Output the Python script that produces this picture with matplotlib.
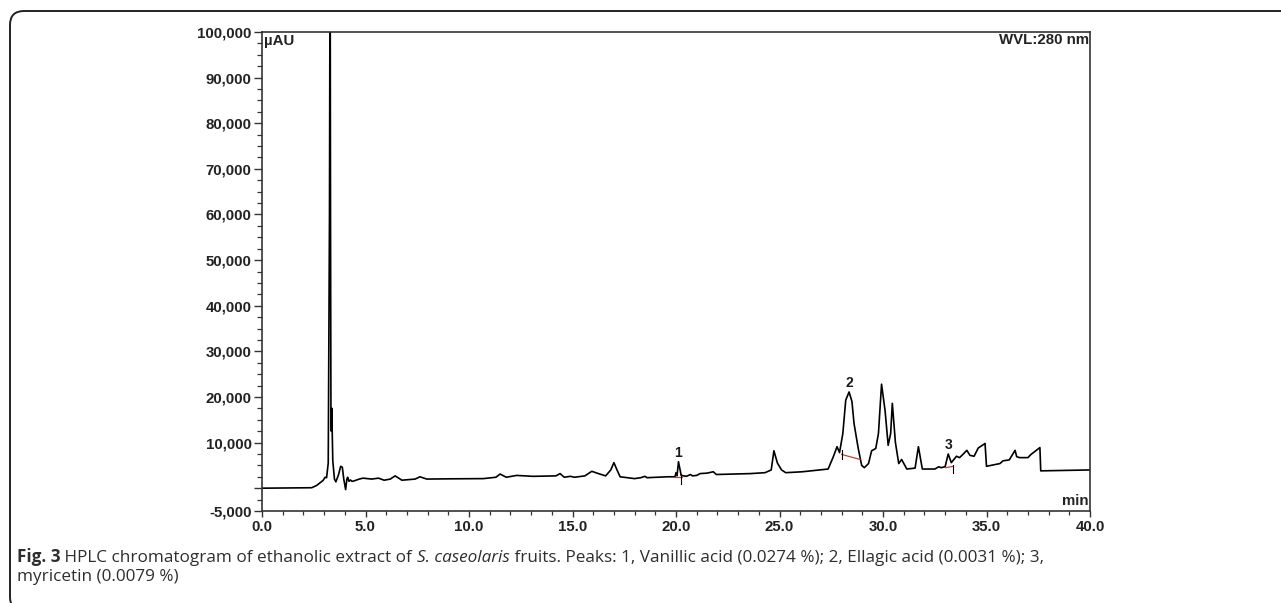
import matplotlib
matplotlib.use("Agg")
import matplotlib.pyplot as plt
from matplotlib.patches import FancyBboxPatch
from matplotlib.transforms import IdentityTransform
from matplotlib.ticker import FixedLocator, MultipleLocator, FuncFormatter

# retention time (min) and detector signal (uAU)
time_min = [0.0, 2.4, 2.64, 2.95, 3.05, 3.12, 3.2, 3.26, 3.29, 3.31, 3.33, 3.35,
            3.37, 3.42, 3.5, 3.57, 3.7, 3.8, 3.88, 3.95, 4.04, 4.1, 4.14, 4.2,
            4.27, 4.35, 4.45, 4.7, 4.88, 5.3, 5.63, 5.9, 6.2, 6.43, 6.76, 7.4,
            7.63, 7.96, 9.0, 10.7, 11.3, 11.5, 11.8, 12.3, 13.1, 14.2, 14.4, 14.6,
            14.9, 15.1, 15.6, 15.93, 16.25, 16.6, 16.85, 17.0, 17.15, 17.3, 18.0,
            18.3, 18.5, 18.6, 19.6, 19.95, 20.0, 20.05, 20.12, 20.25, 20.5, 20.7,
            20.8, 21.0, 21.16, 21.5, 21.8, 21.95, 22.8, 23.6, 24.3, 24.6, 24.73,
            24.9, 25.1, 25.3, 26.1, 27.35, 27.6, 27.78, 27.9, 28.06, 28.2, 28.36,
            28.5, 28.6, 28.8, 28.97, 29.1, 29.3, 29.45, 29.65, 29.78, 29.93, 30.1,
            30.25, 30.37, 30.45, 30.6, 30.76, 30.9, 31.15, 31.55, 31.71, 31.9,
            32.5, 32.7, 32.8, 33.0, 33.15, 33.3, 33.55, 33.7, 33.88, 34.05, 34.2,
            34.4, 34.6, 34.93, 35.0, 35.65, 35.8, 36.1, 36.38, 36.46, 36.6, 37.0,
            37.15, 37.58, 37.62, 40.0]
signal = [0, 100, 600, 1700, 2400, 2300, 5500, 60000, 125000, 60000, 18000, 12500,
          17500, 6000, 2000, 1400, 3000, 4800, 4600, 2000, -300, 2000, 2400, 1500,
          1800, 1500, 1600, 2000, 2200, 2000, 2200, 1750, 2000, 2700, 1750, 2000,
          2500, 2000, 2050, 2100, 2400, 3100, 2400, 2800, 2600, 2700, 3200, 2400,
          2600, 2400, 2700, 3700, 3200, 2700, 4000, 5600, 4000, 2500, 2100,
          2300, 2600, 2300, 2500, 2500, 3400, 2700, 5800, 2800, 2600, 3000,
          2700, 2800, 3200, 3300, 3600, 3000, 3100, 3200, 3400, 4000, 8200,
          5500, 4000, 3400, 3600, 4200, 6900, 9100, 7800, 12000, 19300, 21100,
          19000, 14200, 8800, 5000, 4500, 5400, 8200, 8700, 12000, 22800, 17000,
          9400, 12000, 18600, 10000, 5400, 6300, 4200, 4400, 9100, 4200,
          4200, 4700, 4500, 4700, 7500, 5600, 7000, 6700, 7500, 8300, 7200,
          7000, 8800, 9800, 4800, 5400, 6000, 6200, 8300, 6900, 6700, 6700,
          7400, 8900, 3800, 4000]

peak_ids = ["1", "2", "3"]
peak_time = [20.12, 28.36, 33.19]
peak_label_y = [7700, 23000, 9400]

# integration baselines drawn by the software
base_t = [[19.95, 20.3], [28.0, 28.89], [33.03, 33.4]]
base_v = [[2500, 2500], [7400, 6300], [4500, 4800]]
cut_t = [20.22, 28.0, 33.4]
cut_v = [[3200, 1000], [8300, 6500], [5000, 3300]]

caption_1 = [("Fig. 3", "bold", "normal"),
             (" HPLC chromatogram of ethanolic extract of ", "normal", "normal"),
             ("S. caseolaris", "normal", "italic"),
             (" fruits. Peaks: 1, Vanillic acid (0.0274 %); 2, Ellagic acid (0.0031 %); 3,", "normal", "normal")]
caption_2 = "myricetin (0.0079 %)"

fig = plt.figure(figsize=(12.81, 6.03), dpi=100)
ax = fig.add_axes([262 / 1281, 1 - 511 / 603, 828 / 1281, 479 / 603])

ax.plot(time_min, signal, color="black", lw=1.2)
for bt, bv in zip(base_t, base_v):
    ax.plot(bt, bv, color="#b5473f", lw=0.9)
for ct, cv in zip(cut_t, cut_v):
    ax.plot([ct, ct], cv, color="black", lw=0.8)

for lab, t, v in zip(peak_ids, peak_time, peak_label_y):
    ax.text(t, v, lab, ha="center", va="center", fontsize=10,
            family="Liberation Sans", weight="bold", color="#1a1a1a")

ax.set_xlim(0, 40)
ax.set_ylim(-5000, 100000)

ax.xaxis.set_major_locator(MultipleLocator(5))
ax.xaxis.set_minor_locator(MultipleLocator(1))
ax.xaxis.set_major_formatter(FuncFormatter(lambda v, p: f"{v:.1f}"))

yticks = [-5000, 0, 10000, 20000, 30000, 40000, 50000, 60000, 70000, 80000, 90000, 100000]
ax.yaxis.set_major_locator(FixedLocator(yticks))
ax.yaxis.set_minor_locator(MultipleLocator(2500))
ax.yaxis.set_major_formatter(FuncFormatter(lambda v, p: "" if v == 0 else f"{int(v):,}"))

for lab in ax.get_xticklabels() + ax.get_yticklabels():
    lab.set_family("Liberation Sans")
    lab.set_fontweight("bold")
    lab.set_fontsize(10.8)
    lab.set_color("#222222")

ax.tick_params(axis="y", which="major", length=6, width=1.0, pad=1.5, color="#333333")
ax.tick_params(axis="y", which="minor", length=3.5, width=0.9, color="#333333")
ax.tick_params(axis="x", which="major", length=4.5, width=1.0, pad=2, color="#333333")
ax.tick_params(axis="x", which="minor", length=3, width=0.9, color="#333333")
for s in ax.spines.values():
    s.set_linewidth(1.2)
    s.set_color("#333333")

ax.text(0.003, 0.995, "\u00b5AU", transform=ax.transAxes, ha="left", va="top",
        fontsize=10.8, family="Liberation Sans", weight="bold", color="#222222")
ax.text(0.999, 0.997, "WVL:280 nm", transform=ax.transAxes, ha="right", va="top",
        fontsize=10.8, family="Liberation Sans", weight="bold", color="#222222")
ax.text(0.998, 0.006, "min", transform=ax.transAxes, ha="right", va="bottom",
        fontsize=10.8, family="Liberation Sans", weight="bold", color="#222222")

# rounded frame around the whole figure
frame = FancyBboxPatch((10, -8), 1300, 603 - 11 + 8,
                       boxstyle="round,pad=0,rounding_size=14",
                       transform=IdentityTransform(), fill=False,
                       edgecolor="#222222", lw=1.4)
fig.add_artist(frame)

# caption, drawn piece by piece so bold/italic parts line up
renderer = fig.canvas.get_renderer()
cap_kw = dict(family="Open Sans", fontsize=12.3, color="#2e2e2e", va="baseline")


def advance(txt, weight, style):
    a = fig.text(0, 0, txt + "|", weight=weight, style=style, **cap_kw)
    b = fig.text(0, 0, "|", weight=weight, style=style, **cap_kw)
    w = a.get_window_extent(renderer).width - b.get_window_extent(renderer).width
    a.remove()
    b.remove()
    return w


x = 17
y1 = 603 - 562
for txt, weight, style in caption_1:
    fig.text(x / 1281, y1 / 603, txt, weight=weight, style=style, **cap_kw)
    x += advance(txt, weight, style)
fig.text(17 / 1281, (603 - 581) / 603, caption_2, **cap_kw)

fig.savefig("out.png", dpi=100)
